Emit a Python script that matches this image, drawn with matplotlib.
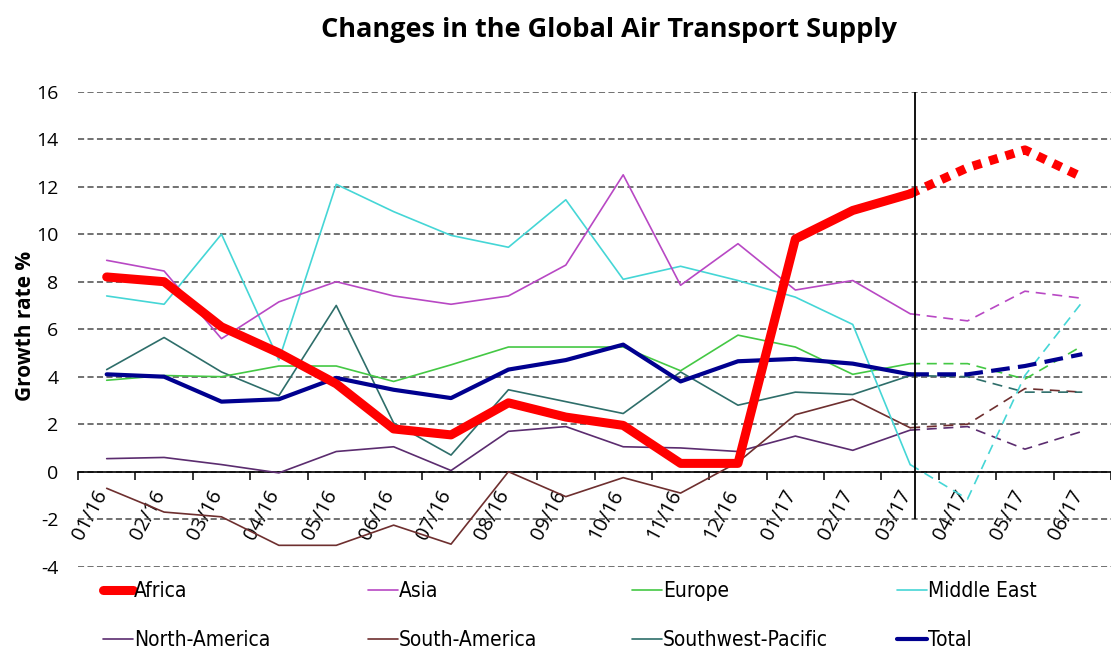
import matplotlib
matplotlib.use("Agg")
import matplotlib.pyplot as plt
import matplotlib.transforms as mtransforms
import numpy as np

plt.rcParams['axes.unicode_minus'] = False

# monthly growth of seat capacity, 01/16 .. 06/17 (last three months forecast)
months = ['01/16', '02/16', '03/16', '04/16', '05/16', '06/16', '07/16', '08/16', '09/16',
          '10/16', '11/16', '12/16', '01/17', '02/17', '03/17', '04/17', '05/17', '06/17']
forecast_from = months.index('03/17')

africa = [8.2, 8.0, 6.1, 5.0, 3.7, 1.8, 1.55, 2.9, 2.3, 1.95, 0.35, 0.35, 9.8, 11.0, 11.7, 12.8, 13.55, 12.4]
asia = [8.9, 8.45, 5.6, 7.15, 8.0, 7.4, 7.05, 7.4, 8.7, 12.5, 7.85, 9.6, 7.65, 8.05, 6.65, 6.35, 7.6, 7.3]
europe = [3.85, 4.05, 4.0, 4.45, 4.45, 3.8, 4.5, 5.25, 5.25, 5.25, 4.25, 5.75, 5.25, 4.1, 4.55, 4.55, 3.9, 5.3]
middle_east = [7.4, 7.05, 10.0, 4.7, 12.1, 10.95, 9.95, 9.45, 11.45, 8.1, 8.65, 8.05, 7.35, 6.2, 0.3, -1.15, 4.05, 7.15]
north_america = [0.55, 0.6, 0.3, -0.05, 0.85, 1.05, 0.05, 1.7, 1.9, 1.05, 1.0, 0.85, 1.5, 0.9, 1.75, 1.9, 0.95, 1.7]
south_america = [-0.7, -1.7, -1.9, -3.1, -3.1, -2.25, -3.05, 0.0, -1.05, -0.25, -0.9, 0.4, 2.4, 3.05, 1.85, 2.0, 3.5, 3.35]
sw_pacific = [4.3, 5.65, 4.2, 3.2, 7.0, 2.05, 0.7, 3.45, 2.95, 2.45, 4.2, 2.8, 3.35, 3.25, 4.05, 4.0, 3.35, 3.35]
total = [4.1, 4.0, 2.95, 3.05, 3.95, 3.45, 3.1, 4.3, 4.7, 5.35, 3.8, 4.65, 4.75, 4.55, 4.1, 4.1, 4.45, 4.95]

series = [
    ('Africa', africa, '#ff0000', 6.5, (0, (1, 0.9))),
    ('Asia', asia, '#b848c4', 1.2, (0, (6, 4))),
    ('Europe', europe, '#44c844', 1.2, (0, (6, 4))),
    ('Middle East', middle_east, '#45d6d6', 1.2, (0, (6, 4))),
    ('North-America', north_america, '#5b2c6f', 1.2, (0, (6, 4))),
    ('South-America', south_america, '#6e2f2f', 1.2, (0, (6, 4))),
    ('Southwest-Pacific', sw_pacific, '#2e6e6a', 1.2, (0, (6, 4))),
    ('Total', total, '#00008f', 3.0, (0, (4.5, 2))),
]
draw_order = [4, 5, 6, 2, 3, 1, 7, 0]

tick_font = ['Open Sans', 'DejaVu Sans']

fig = plt.figure(figsize=(11.11, 6.5), dpi=100)
ax = fig.add_axes([78 / 1111, 1 - 566.7 / 650, 1 - 78 / 1111, (566.7 - 91.7) / 650])

x = np.arange(len(months))
handles = [None] * len(series)
for k in draw_order:
    name, vals, color, lw, fc_style = series[k]
    vals = np.array(vals)
    z = 5 if name == 'Africa' else (4 if name == 'Total' else 3)
    line, = ax.plot(x[:forecast_from + 1], vals[:forecast_from + 1], color=color, lw=lw,
                    label=name, zorder=z, solid_joinstyle='round', solid_capstyle='round')
    ax.plot(x[forecast_from:], vals[forecast_from:], color=color, lw=lw,
            linestyle=fc_style, zorder=z, dash_capstyle='butt')
    handles[k] = line

# separator between actual data and forecast
ax.vlines(forecast_from + 0.08, -2, 16, color='black', lw=1.3, zorder=6)

ax.set_xlim(-0.5, 17.34)
ax.set_ylim(-4, 16)
ax.set_yticks(np.arange(-4, 17, 2))
ax.yaxis.grid(True, linestyle=(0, (4, 2.2)), color='#4a4a4a', lw=1.1)
ax.set_axisbelow(True)

for s in ['top', 'right', 'left']:
    ax.spines[s].set_visible(False)
ax.spines['bottom'].set_position(('data', 0))
ax.spines['bottom'].set_linewidth(1.2)
ax.spines['bottom'].set_zorder(2)

ax.set_xticks(np.arange(-0.5, len(months), 1.0))
ax.set_xticklabels([])
ax.set_xticks(x, labels=months, minor=True)
ax.tick_params(axis='x', which='major', length=6, width=1.1, direction='out', color='black')
ax.tick_params(axis='x', which='minor', length=0, pad=11)
ax.tick_params(axis='y', length=0, pad=14)

shift = mtransforms.ScaledTranslation(5 / 100, 0, fig.dpi_scale_trans)
for lbl in ax.get_xticklabels(minor=True):
    lbl.set_rotation(62)
    lbl.set_ha('right')
    lbl.set_va('top')
    lbl.set_fontsize(14.5)
    lbl.set_family(tick_font)
    lbl.set_transform(lbl.get_transform() + shift)
for lbl in ax.get_yticklabels():
    lbl.set_fontsize(14)
    lbl.set_family(tick_font)

fig.text(26 / 1111, 1 - 326 / 650, 'Growth rate %', rotation=90, ha='center', va='center',
         fontsize=15, fontweight='bold', family=tick_font)
fig.text(609 / 1111, 1 - 30 / 650, 'Changes in the Global Air Transport Supply',
         ha='center', va='center', fontsize=19.5, fontweight='bold', family=tick_font)

# legend: four columns of two entries
col_x = [103, 368, 632, 897]
for c in range(4):
    leg = fig.legend(handles=[handles[c], handles[c + 4]], loc='upper left',
                     bbox_to_anchor=(col_x[c] / 1111, 1 - 581 / 650),
                     frameon=False, borderpad=0, borderaxespad=0,
                     handlelength=1.45, handletextpad=0.05, labelspacing=1.4,
                     prop={'family': 'DejaVu Sans', 'stretch': 'condensed', 'size': 15})

fig.savefig('out.png', dpi=100)
